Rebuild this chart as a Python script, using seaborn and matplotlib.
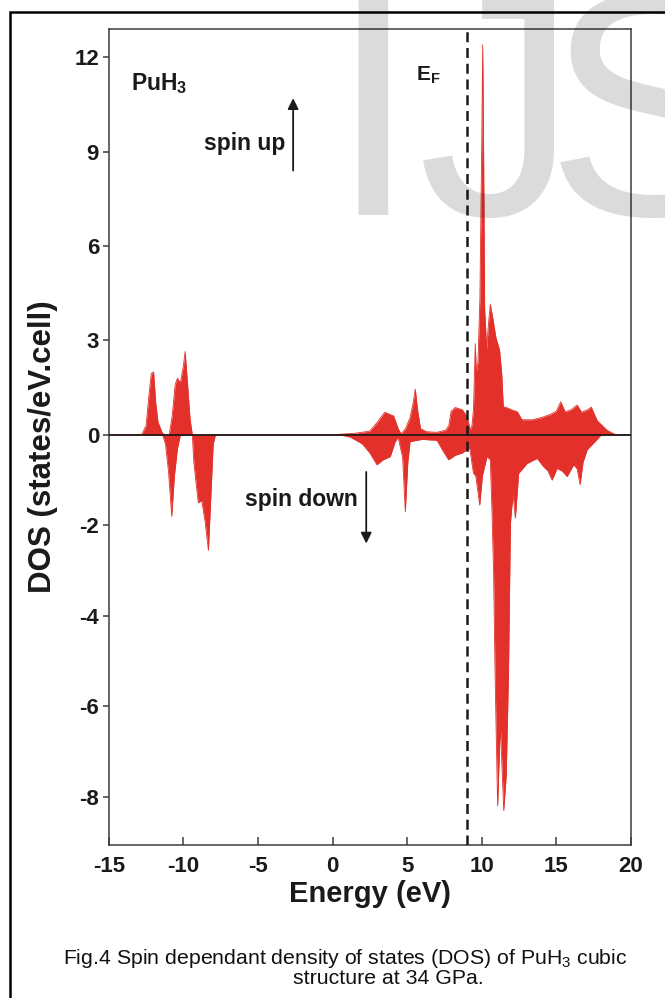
import numpy as np
import pandas as pd
import matplotlib
matplotlib.use("Agg")
import matplotlib.pyplot as plt
from matplotlib.patches import Rectangle
import seaborn as sns

# ---------------- data ----------------
up_energy = [-15, -12.8, -12.5, -12.3, -12.15, -12.0, -11.85, -11.7, -11.4, -11.2,
             -10.95, -10.75, -10.55, -10.4, -10.2, -10.0, -9.88, -9.75, -9.55, -9.4,
             0.0, 0.5, 1.5, 2.5, 3.0, 3.5, 3.8, 4.1, 4.4, 4.6,
             4.9, 5.2, 5.4, 5.55, 5.7, 5.9, 6.3, 7.0, 7.6, 7.8,
             7.95, 8.23, 8.7, 9.0, 9.24, 9.35, 9.45, 9.52, 9.57, 9.64,
             9.75, 9.88, 10.0, 10.07, 10.13, 10.2, 10.34, 10.45, 10.58, 10.75,
             10.95, 11.2, 11.35, 11.45, 11.7, 12.0, 12.4, 12.7, 13.4, 14.0,
             14.6, 15.0, 15.3, 15.6, 16.0, 16.4, 16.7, 17.1, 17.35, 17.75,
             18.4, 19.0, 20.0]
up_dos = [0, 0, 0.3, 1.3, 1.95, 2.0, 1.0, 0.4, 0.05, 0,
          0, 0.6, 1.6, 1.8, 1.65, 2.2, 2.65, 1.8, 0.5, 0,
          0, 0.02, 0.05, 0.12, 0.4, 0.72, 0.66, 0.6, 0.2, 0.03,
          0.2, 0.55, 1.0, 1.45, 0.8, 0.2, 0.1, 0.08, 0.15, 0.3,
          0.75, 0.87, 0.8, 0.6, 0.16, 0.3, 0.8, 2.0, 2.9, 2.0,
          2.3, 4.3, 9.0, 12.4, 9.0, 4.0, 2.7, 3.5, 4.15, 3.7,
          3.1, 2.7, 1.9, 0.9, 0.86, 0.8, 0.73, 0.48, 0.48, 0.55,
          0.65, 0.75, 1.05, 0.73, 0.8, 0.95, 0.72, 0.8, 0.88, 0.45,
          0.15, 0.0, 0]

down_energy = [-15, -11.4, -11.2, -11.0, -10.78, -10.6, -10.4, -10.2, -9.4, -9.3,
               -9.0, -8.77, -8.55, -8.32, -8.15, -8.0, -7.85, 0.5, 1.2, 2.0,
               2.5, 2.98, 3.4, 3.87, 4.2, 4.4, 4.7, 4.88, 5.05, 5.2,
               6.0, 7.0, 7.4, 7.78, 8.23, 8.7, 9.0, 9.2, 9.45, 9.6,
               9.87, 10.05, 10.36, 10.58, 10.7, 10.8, 10.9, 11.07, 11.25, 11.48,
               11.65, 11.8, 11.93, 12.1, 12.26, 12.48, 13.05, 13.72, 14.14, 14.45,
               14.72, 15.06, 15.4, 15.73, 16.17, 16.4, 16.6, 16.8, 17.07, 17.74,
               18.0, 20.0]
down_dos = [0, 0, -0.2, -0.8, -1.8, -0.9, -0.3, 0, 0, -0.6,
            -1.5, -1.45, -1.9, -2.55, -1.3, -0.2, 0, 0, -0.05, -0.2,
            -0.4, -0.66, -0.55, -0.48, -0.15, -0.05, -0.5, -1.7, -0.6, -0.15,
            -0.1, -0.12, -0.35, -0.55, -0.45, -0.4, -0.33, -0.3, -0.85, -0.9,
            -1.55, -0.9, -0.48, -0.55, -1.8, -3.05, -5.3, -8.2, -6.4, -8.3,
            -7.5, -5.26, -1.95, -1.3, -1.84, -0.85, -0.63, -0.52, -0.7, -0.8,
            -1.0, -0.74, -0.8, -0.92, -0.66, -0.75, -1.1, -0.6, -0.33, -0.1,
            0, 0]

fermi_energy = 9.0
x_ticks = [-15, -10, -5, 0, 5, 10, 15, 20]
y_ticks = [12, 9, 6, 3, 0, -2, -4, -6, -8]

# ---------------- figure ----------------
sns.set_theme(style="ticks")
plt.rcParams['font.family'] = ['Liberation Sans', 'DejaVu Sans']

RED = '#e3302a'
SPINE = '#3c3c3c'
INK = '#1a1a1a'

fig = plt.figure(figsize=(6.65, 9.98), dpi=100)
fig.patch.set_facecolor('white')
ax = fig.add_axes([108.8 / 665, 1 - 845 / 998, 522 / 665, 816 / 998])
ax.set_facecolor('white')

# piecewise y scale: negative side stretched
K = 1.4388
def fwd(y):
    y = np.asarray(y, dtype=float)
    return np.where(y >= 0, y, y * K)
def inv(y):
    y = np.asarray(y, dtype=float)
    return np.where(y >= 0, y, y / K)
ax.set_yscale('function', functions=(fwd, inv))

up_df = pd.DataFrame({'Energy': up_energy, 'DOS': up_dos})
dn_df = pd.DataFrame({'Energy': down_energy, 'DOS': down_dos})

ax.fill_between(up_df['Energy'], 0, up_df['DOS'], color=RED, lw=0, zorder=2)
ax.fill_between(dn_df['Energy'], 0, dn_df['DOS'], color=RED, lw=0, zorder=2)
sns.lineplot(data=up_df, x='Energy', y='DOS', ax=ax, color=RED, lw=0.6,
             sort=False, zorder=2)
sns.lineplot(data=dn_df, x='Energy', y='DOS', ax=ax, color=RED, lw=0.6,
             sort=False, zorder=2)

ax.axhline(0, color='#111111', lw=1.2, zorder=3)
ax.axvline(fermi_energy, color=INK, lw=1.8, ls=(0, (4, 2.3)), zorder=4)

ax.set_xlim(-15, 20)
ax.set_ylim(-9.06, 12.9)
ax.set_xticks(x_ticks)
ax.set_xticklabels([str(t) for t in x_ticks])
ax.set_yticks(y_ticks)
ax.set_yticklabels([str(t) for t in y_ticks])
ax.minorticks_off()

for s in ax.spines.values():
    s.set_visible(True)
    s.set_color(SPINE)
    s.set_linewidth(1.1)

ax.tick_params(axis='x', direction='in', length=6, width=1.1, color=SPINE,
               pad=8, labelsize=16, top=False)
ax.tick_params(axis='y', direction='out', length=4, width=1.1, color=SPINE,
               pad=3, labelsize=16, right=False)
for lab in ax.get_xticklabels() + ax.get_yticklabels():
    lab.set_fontweight('bold')
    lab.set_color(INK)

ax.set_xlabel('Energy (eV)', fontsize=21, fontweight='bold', color=INK,
              labelpad=2)
ax.set_ylabel('DOS (states/eV.cell)', fontsize=22.5, fontweight='bold',
              color=INK)
ax.yaxis.set_label_coords(-0.097, 0.488)

# annotations
ax.text(0.0425, 0.9326, r'PuH$_\mathregular{3}$', transform=ax.transAxes,
        fontsize=16.5, fontweight='bold', ha='left', va='center', color=INK)
ax.text(0.589, 0.9436, r'E$_\mathregular{F}$', transform=ax.transAxes,
        fontsize=15, fontweight='bold', ha='left', va='center', color=INK)
ax.text(0.3375, 0.860, 'spin up', transform=ax.transAxes,
        fontsize=16.5, fontweight='bold', ha='right', va='center', color=INK)
ax.text(0.4774, 0.4228, 'spin down', transform=ax.transAxes,
        fontsize=16.5, fontweight='bold', ha='right', va='center', color=INK)
ax.annotate('', xy=(-2.64, 10.7), xytext=(-2.64, 8.4),
            arrowprops=dict(arrowstyle='-|>', color=INK, lw=1.3,
                            mutation_scale=16, shrinkA=0, shrinkB=0))
ax.annotate('', xy=(2.26, -2.4), xytext=(2.26, -0.82),
            arrowprops=dict(arrowstyle='-|>', color=INK, lw=1.3,
                            mutation_scale=16, shrinkA=0, shrinkB=0))

# outer frame of the figure panel
fig.patches.append(Rectangle((10 / 665, -0.05), 1.2, 0.988 + 0.05,
                             transform=fig.transFigure, fill=False,
                             edgecolor='black', lw=1.8, zorder=0))

# caption
fig.text(345 / 665, 1 - 958 / 998,
         r'Fig.4 Spin dependant density of states (DOS) of PuH$_\mathregular{3}$ cubic',
         fontsize=15.3, ha='center', va='center', color='#111111')
fig.text(388 / 665, 1 - 978 / 998, 'structure at 34 GPa.',
         fontsize=15.3, ha='center', va='center', color='#111111')

# translucent watermark
for letter, xpx in (('I', 328), ('J', 418), ('S', 546)):
    fig.text(xpx / 665, 1 - 215 / 998, letter, fontsize=230, color='black',
             alpha=0.14, ha='left', va='baseline', zorder=10)

fig.savefig('out.png', dpi=100)
